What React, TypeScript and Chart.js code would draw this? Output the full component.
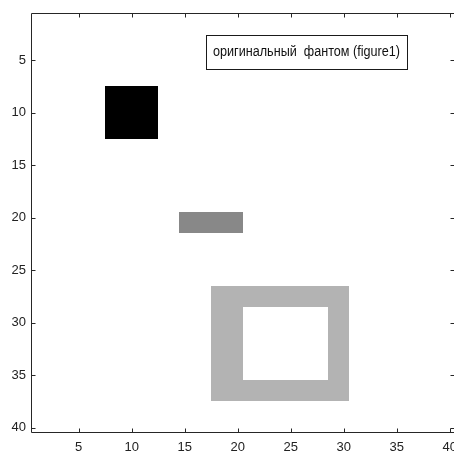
import React, { useEffect, useRef } from "react";
import { Chart, registerables } from "chart.js";

Chart.register(...registerables);

const xTickValues = [5, 10, 15, 20, 25, 30, 35, 40];
const yTickValues = [5, 10, 15, 20, 25, 30, 35, 40];
const gridSize = 40;
// phantom shapes (pixel index ranges, inclusive), painted in order
const shapeColStart = [8, 15, 18, 21];
const shapeColEnd = [12, 20, 30, 28];
const shapeRowStart = [8, 20, 27, 29];
const shapeRowEnd = [12, 21, 37, 35];
const shapeGray = [0, 136, 179, 255];
const legendLabel = "оригинальный  фантом (figure1)";

const FONT = "'Liberation Sans Narrow', 'Arial Narrow', 'Liberation Sans', Arial, sans-serif";

function buildImage() {
  const img: number[][] = [];
  for (let r = 1; r <= gridSize; r++) {
    const row: number[] = [];
    for (let c = 1; c <= gridSize; c++) row.push(255);
    img.push(row);
  }
  for (let s = 0; s < shapeGray.length; s++) {
    for (let r = shapeRowStart[s]; r <= shapeRowEnd[s]; r++) {
      for (let c = shapeColStart[s]; c <= shapeColEnd[s]; c++) {
        img[r - 1][c - 1] = shapeGray[s];
      }
    }
  }
  return img;
}

// merge the image into rectangular blocks of equal value (data units)
function buildBlocks(img: number[][]) {
  type Run = { c0: number; c1: number; g: number };
  const rowRuns: Run[][] = [];
  for (let r = 0; r < gridSize; r++) {
    const runs: Run[] = [];
    let c = 0;
    while (c < gridSize) {
      const g = img[r][c];
      let e = c;
      while (e + 1 < gridSize && img[r][e + 1] === g) e++;
      if (g !== 255) runs.push({ c0: c + 1, c1: e + 1, g });
      c = e + 1;
    }
    rowRuns.push(runs);
  }
  const blocks: { x0: number; x1: number; y0: number; y1: number; g: number }[] = [];
  const open: Record<string, any> = {};
  for (let r = 0; r < gridSize; r++) {
    const seen: Record<string, boolean> = {};
    for (const run of rowRuns[r]) {
      const key = `${run.c0}-${run.c1}-${run.g}`;
      seen[key] = true;
      if (open[key]) open[key].y1 = r + 1;
      else {
        open[key] = { x0: run.c0, x1: run.c1, y0: r + 1, y1: r + 1, g: run.g };
        blocks.push(open[key]);
      }
    }
    for (const k of Object.keys(open)) if (!seen[k]) delete open[k];
  }
  return blocks;
}

const cellPlugin = {
  id: "cells",
  beforeDatasetsDraw(chart: any) {
    const { ctx, scales } = chart;
    const xs = scales.x;
    const ys = scales.y;
    const ds = chart.data.datasets[0];
    ctx.save();
    for (const b of ds.data as any[]) {
      const px0 = Math.round(xs.getPixelForValue(b.x0 - 0.5));
      const px1 = Math.round(xs.getPixelForValue(b.x1 + 0.5));
      const py0 = Math.round(ys.getPixelForValue(b.y0 - 0.5));
      const py1 = Math.round(ys.getPixelForValue(b.y1 + 0.5));
      ctx.fillStyle = `rgb(${b.g},${b.g},${b.g})`;
      ctx.fillRect(Math.min(px0, px1), Math.min(py0, py1), Math.abs(px1 - px0), Math.abs(py1 - py0));
    }
    ctx.restore();
  },
};

const boxPlugin = {
  id: "matlabBox",
  afterDraw(chart: any) {
    const { ctx, chartArea, scales } = chart;
    const l = Math.round(chartArea.left) + 0.5;
    const r = Math.round(chartArea.right) - 0.5;
    const t = Math.round(chartArea.top) + 0.5;
    const b = Math.round(chartArea.bottom) - 0.5;
    ctx.save();
    ctx.strokeStyle = "#262626";
    ctx.lineWidth = 1;
    ctx.beginPath();
    ctx.rect(l, t, r - l, b - t);
    const tl = 4;
    for (const v of xTickValues) {
      const px = Math.round(scales.x.getPixelForValue(v)) + 0.5;
      ctx.moveTo(px, b);
      ctx.lineTo(px, b - tl);
      ctx.moveTo(px, t);
      ctx.lineTo(px, t + tl);
    }
    for (const v of yTickValues) {
      const py = Math.round(scales.y.getPixelForValue(v)) + 0.5;
      ctx.moveTo(l, py);
      ctx.lineTo(l + tl, py);
      ctx.moveTo(r, py);
      ctx.lineTo(r - tl, py);
    }
    ctx.stroke();

    // legend box inside the axes
    const lx = 206.5, ly = 35.5, lw = 201, lh = 34;
    ctx.fillStyle = "#ffffff";
    ctx.fillRect(lx, ly, lw, lh);
    ctx.strokeStyle = "#1a1a1a";
    ctx.strokeRect(lx, ly, lw, lh);
    ctx.fillStyle = "#111111";
    ctx.font = `14px ${FONT}`;
    ctx.textAlign = "left";
    ctx.textBaseline = "middle";
    const w = ctx.measureText(legendLabel).width;
    const target = 187;
    const sx = w > target ? target / w : 1;
    ctx.translate(213, 52.5);
    ctx.scale(sx, 1);
    ctx.fillText(legendLabel, 0, 0);
    ctx.restore();
  },
};

export default function App() {
  const ref = useRef<HTMLCanvasElement | null>(null);
  useEffect(() => {
    if (!ref.current) return;
    const blocks = buildBlocks(buildImage());
    const chart = new Chart(ref.current, {
      type: "scatter",
      data: {
        datasets: [
          {
            label: legendLabel,
            data: blocks.map((b) => ({ ...b, x: (b.x0 + b.x1) / 2, y: (b.y0 + b.y1) / 2 })),
            pointRadius: 0,
            pointHoverRadius: 0,
            showLine: false,
          },
        ],
      },
      options: {
        animation: false,
        responsive: false,
        devicePixelRatio: 1,
        events: [],
        layout: { padding: { top: 11, right: 15, left: 0, bottom: 0 } },
        plugins: {
          legend: { display: false },
          tooltip: { enabled: false },
        },
        scales: {
          x: {
            type: "linear",
            min: 0.5,
            max: 40.5,
            grid: { display: false, drawTicks: false },
            border: { display: false },
            afterBuildTicks: (s: any) => {
              s.ticks = xTickValues.map((v) => ({ value: v }));
            },
            afterFit: (s: any) => {
              s.height = 20;
            },
            ticks: {
              autoSkip: false,
              maxRotation: 0,
              padding: 7,
              color: "#222222",
              font: { family: FONT, size: 13 },
              callback: (v: any) => String(v),
            },
          },
          y: {
            type: "linear",
            reverse: true,
            min: 0.5,
            max: 40.5,
            grid: { display: false, drawTicks: false },
            border: { display: false },
            afterBuildTicks: (s: any) => {
              s.ticks = yTickValues.map((v) => ({ value: v }));
            },
            afterFit: (s: any) => {
              s.width = 31;
            },
            ticks: {
              autoSkip: false,
              padding: 5,
              color: "#222222",
              font: { family: FONT, size: 13 },
              callback: (v: any) => String(v),
            },
          },
        },
      },
      plugins: [cellPlugin, boxPlugin],
    });
    return () => chart.destroy();
  }, []);
  return (
    <div
      style={{
        position: "fixed",
        left: 0,
        top: 0,
        width: 454,
        height: 453,
        overflow: "hidden",
        background: "#ffffff",
      }}
    >
      <canvas ref={ref} width={470} height={453} style={{ display: "block", width: 470, height: 453 }} />
    </div>
  );
}
